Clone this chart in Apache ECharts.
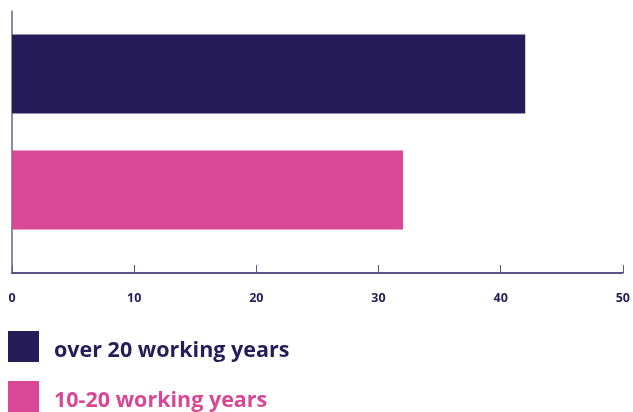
<!DOCTYPE html>
<html>
<head>
<meta charset="utf-8">
<style>
  html, body { margin: 0; padding: 0; background: #ffffff; }
  #chart { width: 633px; height: 412px; }
</style>
<script src="https://cdn.jsdelivr.net/npm/echarts@6/dist/echarts.min.js"></script>
</head>
<body>
<div id="chart"></div>
<script>
// Share of respondents by length of working life
const categories = ['over 20 working years', '10-20 working years'];
const values = [42, 32];
const colors = ['#251c59', '#d84896'];
const axisTicks = [0, 10, 20, 30, 40, 50];

const NAVY = '#251c59';
const FONT = '"Open Sans", "DejaVu Sans", sans-serif';

// one series per category so each gets its own legend entry
const series = categories.map((name, i) => ({
  name: name,
  type: 'bar',
  xAxisIndex: 1,
  yAxisIndex: 1,
  data: categories.map((c, j) => (j === i ? values[i] : null)),
  barGap: '-100%',
  barWidth: 79,
  itemStyle: { color: colors[i] },
  emphasis: { disabled: true }
}));

// empty series keeps the outer axis grid alive
series.push({
  type: 'line',
  xAxisIndex: 0,
  yAxisIndex: 0,
  data: [],
  silent: true
});

const option = {
  animation: false,
  backgroundColor: '#ffffff',
  grid: [
    { left: 12, right: 10, top: 11, height: 262 },   // visible axes
    { left: 12, right: 10, top: 16, height: 232 }    // bars
  ],
  xAxis: [
    {
      gridIndex: 0,
      type: 'value',
      min: axisTicks[0],
      max: axisTicks[axisTicks.length - 1],
      interval: axisTicks[1] - axisTicks[0],
      axisLine: { show: true, lineStyle: { color: NAVY, width: 1.5 } },
      axisTick: { show: true, inside: true, length: 8, lineStyle: { color: '#5c5580', width: 1 } },
      axisLabel: {
        margin: 19,
        color: NAVY,
        fontFamily: FONT,
        fontWeight: 'bold',
        fontSize: 12.5
      },
      splitLine: { show: false }
    },
    {
      gridIndex: 1,
      type: 'value',
      min: axisTicks[0],
      max: axisTicks[axisTicks.length - 1],
      show: false
    }
  ],
  yAxis: [
    {
      gridIndex: 0,
      type: 'value',
      min: 0,
      max: 1,
      axisLine: { show: true, lineStyle: { color: '#6a6490', width: 1.5 } },
      axisTick: { show: false },
      axisLabel: { show: false },
      splitLine: { show: false }
    },
    {
      gridIndex: 1,
      type: 'category',
      inverse: true,
      data: categories,
      show: false
    }
  ],
  legend: {
    orient: 'vertical',
    left: 8,
    top: 331,
    height: 100,
    padding: 0,
    itemWidth: 31,
    itemHeight: 31,
    itemGap: 19,
    icon: 'rect',
    selectedMode: false,
    formatter: '{t|{name}}',
    data: categories.map((name, i) => ({
      name: name,
      textStyle: { color: colors[i] }
    })),
    textStyle: {
      fontFamily: FONT,
      fontWeight: 'bold',
      fontSize: 21.5,
      padding: [0, 0, 0, 10],
      rich: {
        t: {
          fontFamily: FONT,
          fontWeight: 'bold',
          fontSize: 21.5,
          lineHeight: 22,
          padding: [9, 0, 0, 0]
        }
      }
    }
  },
  series: series
};

const chart = echarts.init(document.getElementById('chart'), null, { renderer: 'canvas' });
chart.setOption(option);
</script>
</body>
</html>
